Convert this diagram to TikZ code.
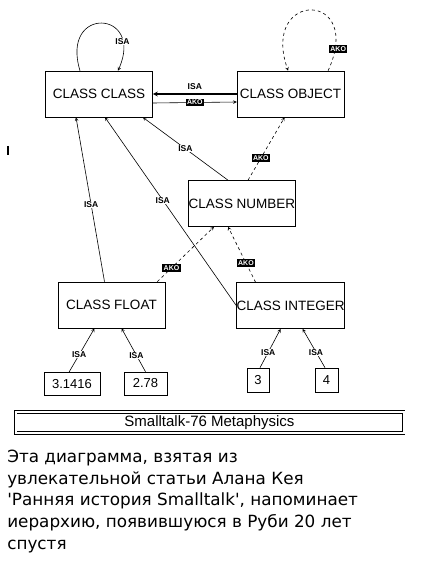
\documentclass[tikz,border=0pt]{standalone}
\usepackage{fontspec}
\setmainfont{DejaVu Sans}
\setsansfont{Liberation Sans}
\usetikzlibrary{arrows,calc,positioning}
\tikzstyle{cls}=[rectangle, draw, minimum width=107pt, minimum height=46pt, inner sep=0pt, font=\sffamily\fontsize{13.5}{15}\selectfont]
\tikzstyle{val}=[rectangle, draw, minimum height=23pt, inner sep=2pt, font=\sffamily\fontsize{13}{15}\selectfont]
\tikzstyle{isa}=[font=\sffamily\bfseries\fontsize{8.5}{9}\selectfont, fill=white, inner sep=0.5pt]
\tikzstyle{ako}=[font=\sffamily\bfseries\fontsize{7}{8}\selectfont, fill=black, text=white, inner sep=1.5pt]

\begin{document}
\begin{tikzpicture}[x=1pt, y=-1pt, line width=0.6pt]
  \useasboundingbox (0,0) rectangle (432,572);
  % classes
  \node[cls] (cclass) at (99,94) {CLASS CLASS};
  \node[cls, right=84pt of cclass] (cobject) {CLASS OBJECT};
  \node[cls] (cnumber) at (242,203.5) {CLASS NUMBER};
  \node[cls] (cfloat) at (111.5,305) {CLASS FLOAT};
  \node[cls, below=165pt of cobject] (cinteger) {CLASS INTEGER};
  % instances
  \node[val, minimum width=56pt] (vpi) at (72,384) {3.1416};
  \node[val, minimum width=43pt] (ve) at (145.5,383.5) {2.78};
  \node[val, minimum width=22pt, minimum height=24pt] (vthree) at (258,380) {3};
  \node[val, minimum width=23pt, minimum height=24pt] (vfour) at (326.5,380) {4};
  % title bar
  \node[draw, double, double distance=2pt, minimum width=388pt, minimum height=21pt,
    font=\sffamily\fontsize{15}{17}\selectfont] (title) at (209.5,422.5) {Smalltalk-76 Metaphysics};
  \draw[line width=1.2pt] (8,146) -- (8,155);
  % ISA links
  \draw[-stealth] ($(cclass.north)+(-19,0)$) .. controls (60,5) and (145,10) ..
    node[isa, pos=0.8]{ISA} ($(cclass.north)+(19,0)$);
  \draw[-stealth, line width=1.2pt] (cobject.west) --
    node[isa, above=3pt]{ISA} (cobject.west -| cclass.east);
  \draw[-stealth] ($(cnumber.north)+(-14,0)$) -- node[isa]{ISA} ($(cclass.south east)+(-10,0)$);
  \draw[-stealth] ($(cfloat.north)+(-7,0)$) -- node[isa, pos=0.47]{ISA} ($(cclass.south)+(-23,0)$);
  \draw[-stealth] (cinteger.west) -- node[isa, pos=0.56]{ISA} ($(cclass.south)+(6,0)$);
  \draw[-stealth] ($(vpi.north)+(-3,0)$) -- node[isa, pos=0.4]{ISA} ($(cfloat.south)+(-17,0)$);
  \draw[-stealth] (ve.north) -- node[isa, pos=0.38]{ISA} ($(cfloat.south)+(10,0)$);
  \draw[-stealth] ($(vthree.north)+(2,0)$) -- node[isa, pos=0.4]{ISA} ($(cinteger.south)+(-10,0)$);
  \draw[-stealth] ($(vfour.north)+(-1.5,0)$) -- node[isa, pos=0.4]{ISA} ($(cinteger.south)+(12,0)$);
  % AKO links
  \draw[-stealth] ($(cclass.east)+(0,9)$) -- node[ako]{AKO} ($(cobject.west)+(0,8)$);
  \draw[-stealth, dashed] ($(cobject.north)+(37.5,0)$) .. controls (365,-10) and (260,-10) ..
    node[ako, pos=0.1, xshift=3pt]{AKO} ($(cobject.north)+(-2.5,0)$);
  \draw[-stealth, dashed] ($(cnumber.north)+(6,0)$) -- node[ako, pos=0.35]{AKO} ($(cobject.south)+(-6,0)$);
  \draw[-stealth, dashed] ($(cfloat.north east)+(-8,0)$) -- node[ako, pos=0.25]{AKO} ($(cnumber.south)+(-28,0)$);
  \draw[-stealth, dashed] ($(cinteger.north)+(-35,0)$) -- node[ako, pos=0.35]{AKO} ($(cnumber.south)+(-14,0)$);
  % caption
  \node[anchor=north west, inner sep=0pt, align=left, font=\fontsize{16.8}{21.8}\selectfont] (caption) at (7,449.5)
    {Эта диаграмма, взятая из\\
     увлекательной статьи Алана Кея\\
     \textquotesingle Ранняя история Smalltalk\textquotesingle, напоминает\\
     иерархию, появившуюся в Руби 20 лет\\
     спустя};
\end{tikzpicture}
\end{document}
